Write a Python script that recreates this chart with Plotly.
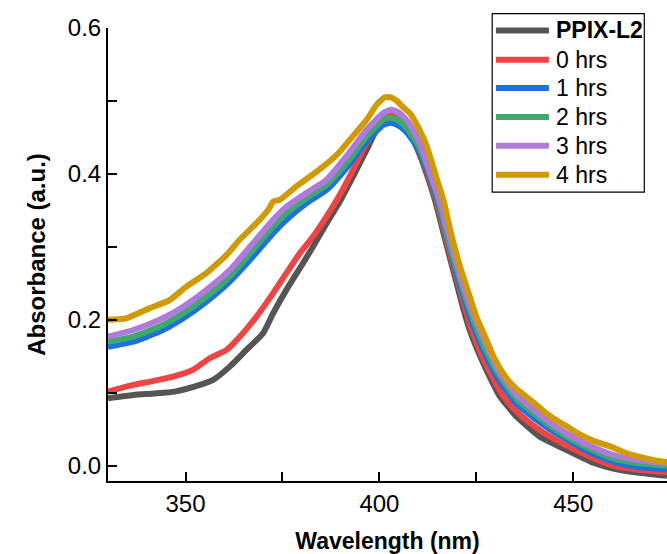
import plotly.graph_objects as go

# ---------------- data ----------------
series_names = ["PPIX-L2", "0 hrs", "1 hrs", "2 hrs", "3 hrs", "4 hrs"]
series_colors = ["#555555", "#EF4444", "#1F6FE0", "#3BAA6B", "#B07ADB", "#D09A00"]

wl_ppix = [330, 336.5, 342, 347.2, 353.7, 357.1, 361.4, 365.7, 370, 372.6, 376, 379.5, 382.9,
           386.4, 389.8, 393.2, 396.7, 399.3, 401.8, 403, 405, 407, 409.5, 412, 414.3, 417.2,
           419.7, 421.5, 423.3, 426, 428.8, 431.1, 435.4, 441.4, 448.3, 455.2, 460.3, 466, 474.2]
abs_ppix = [0.0925, 0.097, 0.099, 0.1015, 0.1107, 0.1176, 0.1358, 0.1587, 0.1816, 0.209, 0.241,
            0.2708, 0.3004, 0.3325, 0.362, 0.3964, 0.433, 0.4605, 0.472, 0.478, 0.474, 0.461,
            0.4376, 0.403, 0.3645, 0.305, 0.2547, 0.218, 0.186, 0.150, 0.118, 0.0947, 0.0672,
            0.0398, 0.0215, 0.004, -0.004, -0.009, -0.014]

wl_0h = [330, 336.5, 340.8, 346.8, 351.9, 356.2, 360.6, 364.8, 368.3, 372.6, 376, 379.5, 382.9,
         386.4, 389.8, 393.2, 396.7, 400.1, 401.8, 403, 405, 407, 409.8, 412.3, 414.6, 417.5,
         420.1, 422, 423.8, 426.5, 429.5, 432, 435.4, 440, 444, 448.3, 454, 460.3, 466, 474.2]
abs_0h = [0.1015, 0.1107, 0.1152, 0.1221, 0.1313, 0.1473, 0.1587, 0.1816, 0.2044, 0.2365, 0.2639,
          0.2914, 0.3141, 0.3416, 0.3713, 0.4056, 0.4423, 0.4697, 0.481, 0.482, 0.477, 0.464,
          0.4376, 0.403, 0.3645, 0.305, 0.2547, 0.218, 0.186, 0.150, 0.118, 0.095, 0.0741,
          0.054, 0.040, 0.0274, 0.013, 0.000, -0.005, -0.009]

wl_1h = [330, 336.5, 343.3, 349.4, 355.4, 361.4, 367.4, 372.6, 376, 381.2, 386.4, 391.5, 396.7,
         401, 403, 405, 407, 409.7, 412.5, 414.9, 417.8, 420.4, 422.5, 424.6, 427.5, 430.5,
         435.4, 440, 444, 448.3, 454, 460.3, 466, 474.2]
abs_1h = [0.163, 0.170, 0.1838, 0.2022, 0.225, 0.2524, 0.2867, 0.3188, 0.337, 0.3599, 0.3782,
          0.408, 0.4444, 0.4673, 0.470, 0.466, 0.457, 0.4376, 0.403, 0.3645, 0.305, 0.2547,
          0.218, 0.186, 0.150, 0.120, 0.0846, 0.065, 0.050, 0.0362, 0.019, 0.0055, -0.001, -0.005]

wl_2h = [330, 336.5, 343.3, 349.4, 355.4, 361.4, 367.4, 372.6, 376, 381.2, 386.4, 391.5, 396.7,
         401, 403, 405, 407, 410.2, 412.8, 415.2, 418, 420.8, 423, 425.2, 428, 431, 435.4, 440,
         444, 448.3, 454, 460.3, 466, 474.2]
abs_2h = [0.170, 0.177, 0.1907, 0.209, 0.2318, 0.2593, 0.2959, 0.3278, 0.3462, 0.3668, 0.385,
          0.4148, 0.4513, 0.4742, 0.477, 0.473, 0.463, 0.4376, 0.403, 0.3645, 0.305, 0.2547,
          0.218, 0.186, 0.152, 0.123, 0.0911, 0.071, 0.055, 0.0398, 0.024, 0.0101, 0.004, 0.000]

wl_3h = [330, 336.5, 343.3, 349.4, 355.4, 361.4, 367.4, 372.6, 376, 381.2, 386.4, 391.5, 396.7,
         401, 403, 405, 407, 408.5, 410.8, 413, 415.5, 418.5, 421.2, 423.5, 425.9, 428.5, 431,
         435.4, 440, 444, 448.3, 454, 460.3, 466, 474.2]
abs_3h = [0.177, 0.186, 0.200, 0.218, 0.241, 0.268, 0.305, 0.337, 0.355, 0.374, 0.392, 0.424,
          0.4605, 0.4834, 0.488, 0.484, 0.474, 0.462, 0.4376, 0.403, 0.3645, 0.305, 0.2547,
          0.218, 0.186, 0.155, 0.128, 0.097, 0.076, 0.059, 0.0444, 0.028, 0.0147, 0.008, 0.003]

wl_4h = [330, 334.7, 340.8, 345.9, 350.2, 355.4, 360.6, 364, 368.3, 371.5, 372.6, 374.3, 378.6,
         383.8, 389, 392.4, 396.7, 399.3, 401.4, 403, 404.5, 406, 407.9, 410, 412.2, 414.3,
         416.5, 418.5, 420.8, 422.2, 425.1, 427, 429.4, 431.5, 433.7, 435.4, 439.7, 443,
         446.6, 448.3, 451, 455.2, 460.3, 463.8, 467.2, 472.4, 474.2]
abs_4h = [0.200, 0.202, 0.216, 0.227, 0.2455, 0.264, 0.289, 0.310, 0.3325, 0.352, 0.362, 0.3645,
          0.383, 0.403, 0.426, 0.447, 0.474, 0.495, 0.505, 0.505, 0.500, 0.492, 0.483, 0.464,
          0.438, 0.402, 0.3645, 0.318, 0.273, 0.250, 0.203, 0.180, 0.150, 0.130, 0.114, 0.105,
          0.087, 0.072, 0.059, 0.054, 0.045, 0.034, 0.025, 0.017, 0.012, 0.006, 0.005]

x_range = [330, 474.18]
y_range = [-0.021, 0.6]
x_title = "Wavelength (nm)"
y_title = "Absorbance (a.u.)"

all_wl = [wl_ppix, wl_0h, wl_1h, wl_2h, wl_3h, wl_4h]
all_abs = [abs_ppix, abs_0h, abs_1h, abs_2h, abs_3h, abs_4h]

# ---------------- figure ----------------
FONT = "Liberation Sans, Arial, sans-serif"
fig = go.Figure()
for name, color, xs, ys in zip(series_names, series_colors, all_wl, all_abs):
    fig.add_trace(go.Scatter(
        x=xs, y=ys, mode="lines", name=name, showlegend=False,
        line=dict(color=color, width=6, shape="spline", smoothing=0.5),
    ))

axis_common = dict(
    showline=True, linecolor="black", linewidth=2, mirror=False,
    ticks="inside", ticklen=9, tickwidth=1.5, tickcolor="black",
    showgrid=False, zeroline=False,
    tickfont=dict(family=FONT, size=24, color="black"),
)
fig.update_xaxes(
    range=x_range, tick0=350, dtick=50,
    minor=dict(ticks="inside", ticklen=9, tickwidth=1.5, tickcolor="black", dtick=25, tick0=325),
    title=dict(text="<b>" + x_title + "</b>", font=dict(family=FONT, size=23, color="black"), standoff=17),
    **axis_common,
)
fig.update_yaxes(
    range=y_range, tick0=0, dtick=0.2, tickformat=".1f",
    minor=dict(ticks="inside", ticklen=9, tickwidth=1.5, tickcolor="black", dtick=0.1, tick0=0),
    title=dict(text="<b>" + y_title + "</b>", font=dict(family=FONT, size=24, color="black"), standoff=15),
    **axis_common,
)

# ---------------- manual legend (paper coordinates) ----------------
W, H = 667, 554
ml, mr, mt, mb = 108.3, 0, 28.3, 73
pw, ph = W - ml - mr, H - mt - mb


def px(xp):
    return (xp - ml) / pw


def py(yp):
    return (H - mb - yp) / ph


fig.add_shape(type="rect", xref="paper", yref="paper",
              x0=px(492.3), x1=px(644.3), y0=py(192.3), y1=py(14),
              line=dict(color="black", width=1.2), fillcolor="white", layer="above")
row_y = [30.7, 60, 88.3, 117.3, 146, 175]
for i, (name, color) in enumerate(zip(series_names, series_colors)):
    fig.add_shape(type="line", xref="paper", yref="paper",
                  x0=px(496), x1=px(549), y0=py(row_y[i]), y1=py(row_y[i]),
                  line=dict(color=color, width=6), layer="above")
    txt = "<b>" + name + "</b>" if i == 0 else name
    fig.add_annotation(xref="paper", yref="paper", x=px(554), y=py(row_y[i]),
                       text=txt, showarrow=False, xanchor="left", yanchor="middle",
                       font=dict(family=FONT, size=23, color="black"))

fig.update_layout(
    width=W, height=H,
    margin=dict(l=ml, r=mr, t=mt, b=mb, autoexpand=False),
    plot_bgcolor="white", paper_bgcolor="white",
    font=dict(family=FONT, color="black"),
)

fig.write_html("out.html")
